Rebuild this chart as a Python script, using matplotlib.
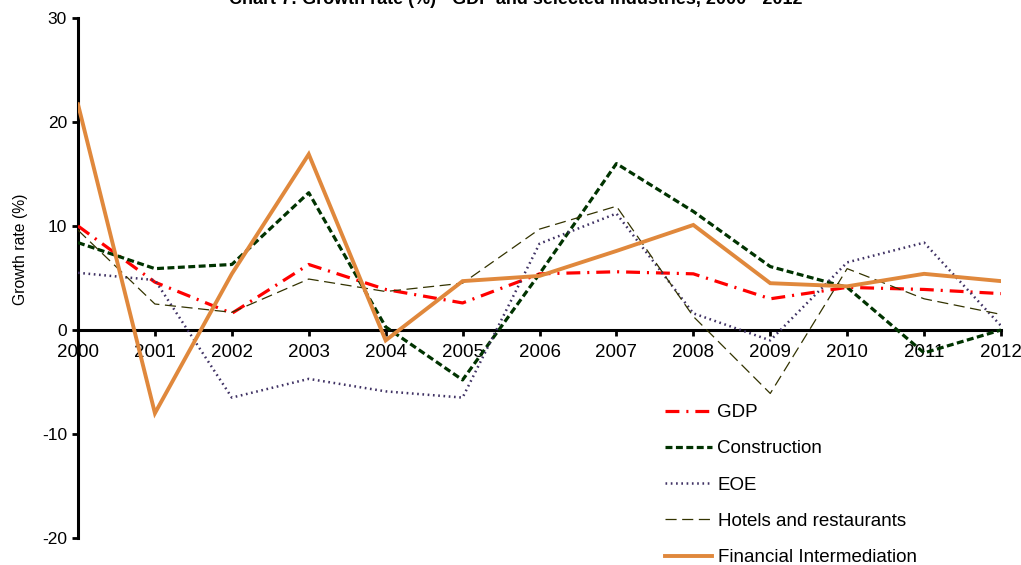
import matplotlib
matplotlib.use("Agg")
import matplotlib.pyplot as plt

plt.rcParams['font.family'] = ['Liberation Sans', 'DejaVu Sans']
plt.rcParams['lines.scale_dashes'] = False
plt.rcParams['axes.unicode_minus'] = False

years = list(range(2000, 2013))
gdp = [10.0, 4.6, 1.6, 6.3, 3.9, 2.6, 5.4, 5.6, 5.4, 3.0, 4.1, 3.9, 3.5]
construction = [8.4, 5.9, 6.3, 13.2, 0.3, -4.8, 5.4, 16.0, 11.4, 6.1, 4.1, -2.2, 0.0]
eoe = [5.5, 4.8, -6.5, -4.7, -5.9, -6.5, 8.3, 11.2, 1.6, -1.0, 6.5, 8.4, 0.4]
hotels = [9.6, 2.5, 1.7, 4.9, 3.7, 4.5, 9.7, 11.9, 1.3, -6.1, 5.9, 3.0, 1.5]
financial = [21.7, -8.0, 5.4, 16.9, -1.0, 4.7, 5.2, 7.6, 10.1, 4.5, 4.2, 5.4, 4.7]

y_ticks = [-20, -10, 0, 10, 20, 30]

fig = plt.figure(figsize=(10.21, 5.65), dpi=100)
ax = fig.add_axes([78 / 1021, 1 - 538 / 565, (1001 - 78) / 1021, (538 - 18) / 565])

ax.plot(years, gdp, color='#FF0000', lw=2.3, dashes=(10, 5, 1.5, 5),
        label='GDP', zorder=3)
ax.plot(years, construction, color='#003300', lw=2.3, dashes=(5, 2.5),
        label='Construction', zorder=3)
ax.plot(years, eoe, color='#3F3163', lw=1.8, dashes=(1.2, 2.6),
        label='EOE', zorder=3)
ax.plot(years, hotels, color='#333300', lw=0.9, dashes=(8, 4),
        label='Hotels and restaurants', zorder=3)
ax.plot(years, financial, color='#E0883C', lw=2.8, solid_joinstyle='miter',
        label='Financial Intermediation', zorder=4)

ax.set_xlim(2000, 2012)
ax.set_ylim(-20, 30)
ax.set_yticks(y_ticks)
ax.set_xticks(years)
ax.set_xticklabels([str(y) for y in years])

ax.spines['top'].set_visible(False)
ax.spines['right'].set_visible(False)
ax.spines['bottom'].set_position(('data', 0))
ax.spines['bottom'].set_linewidth(2.2)
ax.spines['left'].set_linewidth(2.2)
ax.spines['bottom'].set_zorder(2)

ax.tick_params(axis='x', direction='out', length=4, width=2, pad=6, labelsize=13.5)
ax.tick_params(axis='y', direction='out', length=4, width=2, pad=4, labelsize=12.5)

fig.text(20 / 1021, 1 - 249 / 565, 'Growth rate (%)', rotation=90,
         ha='center', va='center', fontsize=11.3)

fig.text(0.505, 1 - 4 / 565, 'Chart 7: Growth rate (%) - GDP and selected industries, 2000 - 2012',
         ha='center', va='baseline', fontsize=13, fontweight='bold')

leg = ax.legend(loc='upper left', bbox_to_anchor=(665 / 1021, 1 - 404 / 565),
                bbox_transform=fig.transFigure, frameon=False, fontsize=13.5,
                handlelength=2.5, handletextpad=0.3, labelspacing=1.02,
                borderaxespad=0, borderpad=0)

fig.savefig('out.png', dpi=100)
